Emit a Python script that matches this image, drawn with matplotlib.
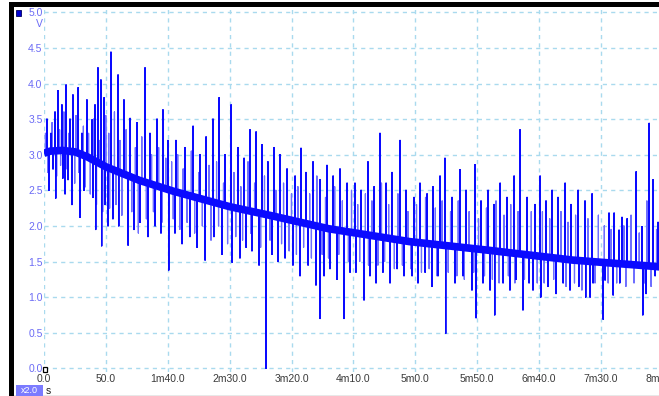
import numpy as np
import matplotlib
matplotlib.use("Agg")
import matplotlib.pyplot as plt
from matplotlib.patches import Rectangle
from matplotlib.lines import Line2D
from matplotlib.transforms import offset_copy

# Smoothed trend of the recorded voltage (time in s, volts)
base_t = [0, 5, 15, 25, 35, 50, 77, 104, 150, 182, 230, 295, 358, 427, 494, 500]
base_v = [3.02, 3.05, 3.06, 3.04, 2.97, 2.83, 2.64, 2.49, 2.27, 2.15, 1.96, 1.78, 1.66, 1.52, 1.43, 1.42]

# Large glitches riding on the trend: upward excursions (time in s, peak volts)
up_t = [2.4, 5.7, 8.9, 11.3, 14.5, 17.8, 21.0, 23.4, 27.5, 30.7, 34.7, 38.8, 41.2, 43.6, 46.0,
        48.5, 54.1, 59.8, 64.6, 69.5, 75.1, 81.6, 85.6, 91.3, 96.1, 100.2, 106.6, 113.9, 120.4,
        126.0, 130.9, 136.5, 141.4, 146.2, 151.1, 156.7, 161.6, 166.4, 171.3, 176.1, 180.9,
        185.8, 190.6, 196.3, 202.8, 207.6, 211.6, 217.3, 222.9, 228.6, 233.5, 239.1, 244.8,
        251.2, 256.1, 261.7, 266.6, 271.4, 276.3, 281.1, 287.6, 292.4, 298.9, 303.7, 309.4,
        314.2, 319.9, 323.9, 329.6, 336.0, 340.9, 348.1, 353.0, 358.7, 363.5, 368.4, 374.0,
        379.7, 384.5, 390.2, 396.6, 400.7, 405.5, 410.4, 415.2, 420.9, 425.7, 431.4, 437.0,
        442.7, 456.4, 460.5, 464.5, 466.9, 471.0, 478.3, 483.1, 488.8, 492.0, 496.0]
up_v = [3.5, 3.3, 3.6, 3.9, 3.7, 3.98, 3.5, 3.84, 3.94, 3.3, 3.77, 3.49, 3.7, 4.22, 4.05,
        3.8, 4.44, 4.12, 3.77, 3.51, 3.45, 4.22, 3.3, 3.5, 3.63, 3.2, 3.2, 3.1, 3.4,
        3.0, 3.25, 3.5, 3.80, 3.0, 3.70, 3.1, 2.95, 3.35, 3.32, 3.14, 2.9,
        3.1, 3.0, 2.8, 2.7, 3.09, 2.75, 2.9, 2.65, 2.85, 2.7, 2.8, 2.6,
        2.6, 2.5, 2.9, 2.55, 3.30, 2.6, 2.75, 3.20, 2.5, 2.4, 2.6, 2.45,
        2.55, 2.7, 2.95, 2.4, 2.79, 2.5, 2.86, 2.35, 2.5, 2.3, 2.6, 2.4,
        2.7, 3.35, 2.4, 2.3, 2.7, 2.35, 2.5, 2.4, 2.6, 2.3, 2.5, 2.35,
        2.45, 2.18, 2.18, 1.94, 2.12, 2.1, 2.76, 1.99, 3.44, 2.65, 2.05]

# Large downward excursions (time in s, lowest volts)
dn_t = [4.0, 7.3, 9.5, 15.2, 17.0, 19.4, 22.6, 29.1, 32.3, 39.6, 41.8, 46.6, 49.3, 51.7, 55.7,
        60.4, 67.9, 72.7, 77.5, 84.0, 89.7, 94.5, 100.8, 105.8, 111.5, 117.9, 123.6, 130.1,
        137.3, 143.8, 151.9, 158.3, 163.2, 168.0, 173.7, 179.3, 184.2, 189.0, 194.7, 201.1,
        206.8, 213.3, 219.7, 223.0, 226.2, 231.0, 236.7, 242.3, 247.2, 252.0, 258.5, 263.3,
        268.2, 273.8, 279.5, 285.2, 290.8, 297.3, 302.1, 307.8, 313.4, 318.3, 324.5, 332.0,
        338.5, 345.7, 349.0, 354.6, 360.3, 364.1, 370.8, 376.4, 381.3, 386.9, 391.8, 395.0,
        401.3, 407.1, 413.6, 419.3, 424.9, 432.0, 437.6, 441.1, 443.5, 451.6, 453.2, 459.7,
        465.1, 483.7, 486.3, 493.6]
dn_v = [2.5, 2.8, 2.39, 2.67, 2.45, 2.65, 2.3, 2.12, 2.5, 2.4, 1.95, 1.72, 2.3, 2.0, 2.1,
        2.0, 1.73, 1.95, 2.05, 1.85, 2.0, 1.9, 1.38, 1.9, 1.75, 1.85, 1.7, 1.52,
        1.85, 1.6, 1.49, 1.55, 1.7, 1.65, 1.45, 0.0, 1.6, 1.5, 1.55, 1.45,
        1.3, 1.45, 1.17, 0.7, 1.3, 1.4, 1.25, 0.70, 1.35, 1.35, 0.96, 1.3,
        1.2, 1.35, 1.2, 1.4, 1.3, 1.3, 1.2, 1.35, 1.15, 1.3, 0.49, 1.2,
        1.3, 1.1, 0.71, 1.2, 1.1, 0.75, 1.2, 1.1, 1.25, 0.82, 1.2, 1.1,
        1.0, 1.15, 1.05, 1.2, 1.1, 1.15, 1.0, 1.0, 1.2, 0.69, 1.24, 1.03,
        1.2, 0.75, 1.05, 1.3]

# Smaller glitches (time in s, extreme volts)
minor_t = [1.2, 3.1, 6.5, 10.2, 12.6, 13.4, 16.1, 18.6, 20.1, 24.8, 25.9, 28.3, 31.8, 33.4,
           36.0, 37.4, 40.1, 42.4, 44.8, 47.4, 49.9,
           52.3, 53.0, 56.9, 58.2, 61.4, 62.9, 66.3, 70.9, 73.8, 76.2, 79.0, 82.7, 86.9, 88.4,
           92.6, 95.2, 98.4,
           103.1, 104.4, 108.0, 109.7, 112.4, 115.6, 119.0, 121.7, 125.0, 127.9, 133.3, 134.9,
           139.4, 141.0, 145.0, 148.3,
           153.4, 154.9, 159.0, 160.4, 164.8, 166.9, 170.1, 175.0, 178.1, 182.6, 187.3, 191.9,
           193.5, 198.0, 199.9,
           203.9, 205.1, 209.7, 214.6, 216.0, 220.4, 224.7, 227.4, 229.8, 234.8, 238.1, 241.0,
           245.9, 248.4,
           253.4, 255.0, 259.6, 262.1, 264.9, 269.7, 272.6, 275.1, 278.4, 283.0, 285.9, 289.5,
           294.0, 296.3,
           300.9, 304.9, 308.2, 311.1, 316.1, 317.5, 321.6, 326.5, 328.4, 333.5, 334.6, 339.5,
           343.4, 347.1,
           351.0, 355.8, 357.4, 362.2, 365.1, 367.6, 371.6, 375.1, 377.0, 380.4, 382.9, 388.1,
           393.6, 398.4,
           402.6, 404.0, 408.5, 411.7, 417.6, 421.7, 423.3, 428.5, 429.4, 434.5, 439.4, 445.1,
           447.8,
           452.6, 455.7, 458.1, 462.6, 468.4, 470.0, 474.2, 476.6, 480.8, 485.2, 487.0, 490.4,
           494.8]
minor_v = [3.3, 2.75, 3.45, 2.7, 3.35, 2.85, 3.6, 2.8, 3.3, 2.6, 3.55, 2.75, 3.4, 2.55,
           3.3, 2.45, 3.5, 2.3, 3.2, 2.2, 3.55,
           3.3, 2.25, 3.6, 2.3, 3.2, 2.15, 3.35, 2.2, 3.1, 1.9, 3.25, 2.1, 3.0, 2.2,
           3.1, 2.05, 2.95,
           2.9, 2.1, 3.0, 1.95, 2.8, 2.05, 3.05, 1.9, 2.75, 2.0, 2.85, 1.8,
           2.9, 2.0, 2.6, 1.75,
           2.75, 1.85, 2.55, 1.8, 2.9, 1.9, 2.6, 1.7, 2.7, 1.8, 2.5, 1.75,
           2.6, 1.65, 2.45,
           1.6, 2.55, 1.7, 2.45, 1.55, 2.7, 1.6, 2.4, 1.55, 2.55, 1.6, 2.35,
           1.5, 2.5,
           2.3, 1.5, 2.45, 1.45, 2.35, 1.45, 2.6, 1.5, 2.3, 1.4, 2.45, 1.45,
           2.2, 1.4,
           2.3, 1.35, 2.4, 1.4, 2.25, 1.3, 2.35, 1.35, 2.2, 1.3, 2.35, 1.25,
           2.2, 1.35,
           2.1, 1.3, 2.25, 1.25, 2.35, 1.2, 2.15, 1.3, 2.3, 1.2, 2.2, 1.25,
           2.2, 1.2,
           2.2, 1.2, 2.1, 1.25, 2.2, 1.15, 2.05, 1.2, 2.15, 1.1, 2.1, 1.2,
           2.15,
           2.0, 1.2, 1.95, 1.2, 2.0, 1.15, 2.15, 1.2, 1.9, 1.2, 2.35, 1.15,
           1.95]

x_ticks = [0, 50, 100, 150, 200, 250, 300, 350, 400, 450, 500]
x_labels = ["0.0", "50.0", "1m40.0", "2m30.0", "3m20.0", "4m10.0", "5m0.0",
            "5m50.0", "6m40.0", "7m30.0", "8m20.0"]
y_ticks = [0.0, 0.5, 1.0, 1.5, 2.0, 2.5, 3.0, 3.5, 4.0, 4.5, 5.0]

W, H = 659, 396
plt.rcParams["font.family"] = ["Liberation Sans", "DejaVu Sans"]
fig = plt.figure(figsize=(W / 100, H / 100), dpi=100)
fig.patch.set_facecolor("white")


def fx(px):
    return px / W


def fy(py):
    return 1 - py / H


# plot area spans from the time origin to the right edge of the window
ax = fig.add_axes([fx(44), fy(372), fx(W - 44), (372 - 7) / H])
ax.set_xlim(0, (W - 44) * 50 / 61.9)
ax.set_ylim((368.3 - 372) / 71.2, (368.3 - 7) / 71.2)
for s in ax.spines.values():
    s.set_visible(False)

grid_kw = dict(color="#a9daee", lw=1.0, ls=(0, (3, 3)), zorder=0)
for yt in y_ticks:
    ax.axhline(yt, **grid_kw)
for xt in x_ticks:
    ax.axvline(xt, **grid_kw)

blue = "#0a0aff"


def glitch_trace(ts, vs):
    """Build a trace that leaves the trend, reaches each extreme and returns."""
    order = np.argsort(ts)
    t = np.asarray(ts, float)[order]
    v = np.asarray(vs, float)[order]
    b = np.interp(t, base_t, base_v)
    return np.repeat(t, 3), np.column_stack([b, v, b]).ravel()


mt, mv = glitch_trace(minor_t, minor_v)
ax.plot(mt, mv, color="#6e6eff", lw=0.9, zorder=2)

gt, gv = glitch_trace(up_t + dn_t, up_v + dn_v)
ax.plot(gt, gv, color=blue, lw=1.0, zorder=2)

# dense band of the averaged signal
ax.plot(base_t, base_v, color=blue, lw=5.5, solid_capstyle="butt", zorder=3)

ax.set_xticks(x_ticks[:-1])
ax.set_xticklabels(x_labels[:-1])
ax.set_yticks(y_ticks)
ax.set_yticklabels([f"{v:.1f}" for v in y_ticks])
ax.tick_params(axis="x", length=0, pad=1.5, labelsize=7.5, labelcolor="#3a3a3a")
ax.tick_params(axis="y", length=0, pad=1.0, labelsize=7.5, labelcolor="#6b6bf5")
ax.text(x_ticks[-1], ax.get_ylim()[0], x_labels[-1], ha="center", va="top", fontsize=7.5,
        color="#3a3a3a", clip_on=False,
        transform=offset_copy(ax.transData, fig, y=-1.5, units="points"))

# window frame
fig.add_artist(Rectangle((fx(9), 0), fx(5), fy(2), transform=fig.transFigure,
                         facecolor="black", edgecolor="none", zorder=10))
fig.add_artist(Rectangle((fx(9), fy(7)), fx(W - 9), 5 / H, transform=fig.transFigure,
                         facecolor="black", edgecolor="none", zorder=10))
fig.add_artist(Line2D([fx(14), 1], [fy(395.5), fy(395.5)], transform=fig.transFigure,
                      color="#8a8a8a", lw=1.0, zorder=10))

# channel marker and unit
fig.add_artist(Rectangle((fx(15.5), fy(15.5)), fx(5.5), 5.5 / H, transform=fig.transFigure,
                         facecolor="#0000d0", edgecolor="#000060", lw=0.6, zorder=10))
fig.text(fx(43), fy(24), "V", ha="right", va="center", fontsize=7.5, color="#6b6bf5")

# zoom badge and time unit
fig.add_artist(Rectangle((fx(16), 0), fx(27), 11 / H, transform=fig.transFigure,
                         facecolor="#7b7bff", edgecolor="none", zorder=10))
fig.text(fx(29.5), fy(390.5), "x2.0", ha="center", va="center", fontsize=6.5,
         color="white", zorder=11)
fig.text(fx(45.5), fy(390.5), "s", ha="left", va="center", fontsize=7.5, color="#202020")

# origin marker
fig.add_artist(Rectangle((fx(42.7), fy(372)), fx(4.6), 4.7 / H, transform=fig.transFigure,
                         facecolor="white", edgecolor="black", lw=0.9, zorder=10))

fig.savefig("out.png", dpi=100)
